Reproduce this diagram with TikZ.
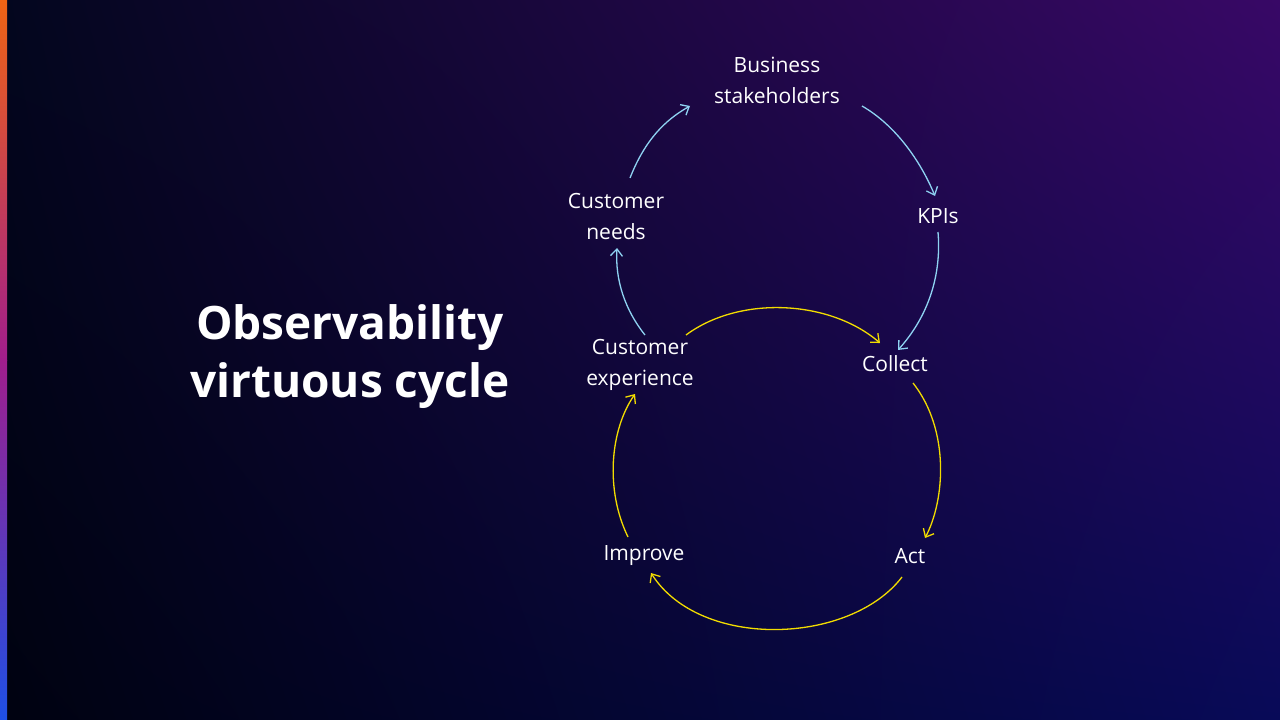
\documentclass[tikz,border=0pt]{standalone}
\usepackage{fontspec}
\setmainfont{Open Sans}
\usetikzlibrary{arrows.meta,shadings}
\definecolor{cblue}{HTML}{8FD3F2}
\definecolor{cyel}{HTML}{F2DC00}
\definecolor{bgul}{HTML}{03061E}
\definecolor{bgur}{HTML}{380866}
\definecolor{bglr}{HTML}{080A58}
\definecolor{bgll}{HTML}{000210}
\definecolor{stA}{HTML}{F06414}
\definecolor{stB}{HTML}{A01E8C}
\definecolor{stC}{HTML}{1E50E6}
\tikzset{
 lbl/.style={text=white,font=\fontsize{21}{31}\selectfont,align=center,inner sep=0pt},
 barr/.style={draw=cblue,line width=1.3pt,-{Straight Barb[length=7pt,width=12pt]}},
 yarr/.style={draw=cyel,line width=1.3pt,-{Straight Barb[length=7pt,width=12pt]}}
}
\begin{document}
\begin{tikzpicture}[x=1pt,y=-1pt]
\useasboundingbox (0,0) rectangle (1280,720);
\shade[upper left=bgul,upper right=bgur,lower right=bglr,lower left=bgll] (0,0) rectangle (1280,720);
\shade[top color=stA,bottom color=stB] (0,0) rectangle (7,360);
\shade[top color=stB,bottom color=stC] (0,360) rectangle (7,720);
\node[text=white,font=\bfseries\fontsize{46}{58}\selectfont,align=center] (title) at (350,357) {Observability\\virtuous cycle};
\node[lbl] (bs) at (777,80) {Business\\stakeholders};
\node[lbl] (kpi) at (938,216) {KPIs};
\node[lbl] (col) at (895,364) {Collect};
\node[lbl] (act) at (910,556) {Act};
\node[lbl] (imp) at (644,556) {Improve};
\node[lbl] (ce) at (640,365) {Customer\\experience};
\node[lbl] (cn) at (616,216) {Customer\\needs};
\draw[barr] (630,178) .. controls (645,140) and (665,120) .. (690,106);
\draw[barr] (862,106) .. controls (895,125) and (920,160) .. (935,196);
\draw[barr] (938,232) .. controls (942,280) and (925,320) .. (898,350);
\draw[barr] (645,335) .. controls (625,310) and (615,280) .. (617,248);
\draw[yarr] (686,335) .. controls (740,295) and (830,300) .. (880,343);
\draw[yarr] (913,383) .. controls (950,430) and (945,500) .. (925,538);
\draw[yarr] (902,577) .. controls (850,645) and (700,650) .. (651,573);
\draw[yarr] (628,537) .. controls (605,490) and (610,430) .. (635,394);
\end{tikzpicture}
\end{document}
